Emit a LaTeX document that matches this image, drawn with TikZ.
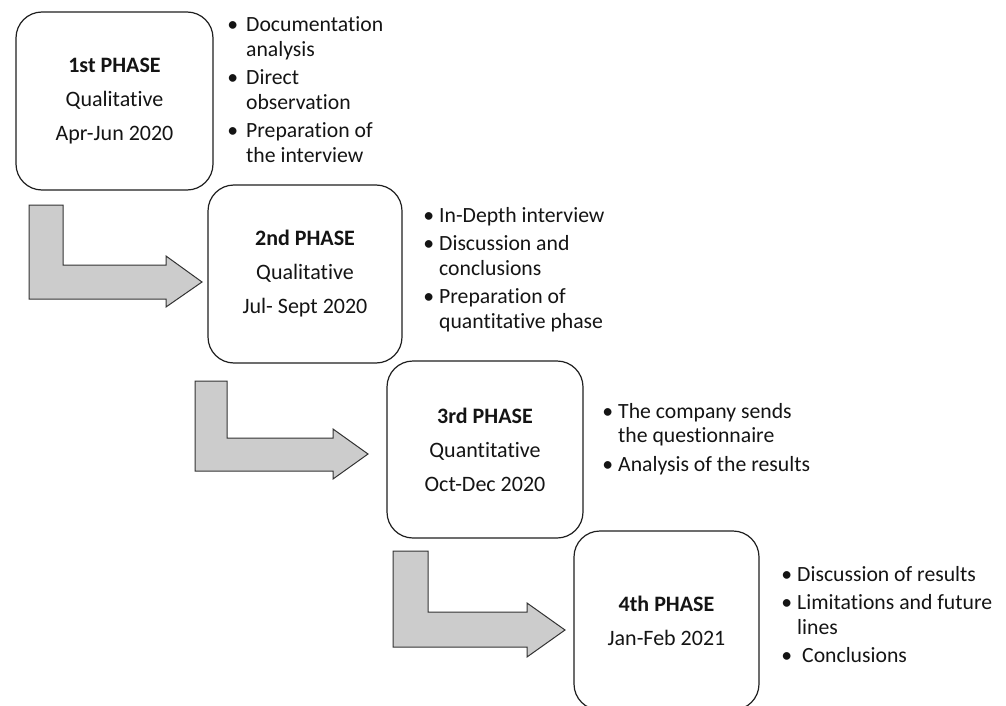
\documentclass[tikz,border=0pt]{standalone}
\usepackage{fontspec}
\setmainfont{Carlito}[RawFeature={-liga,-dlig,-clig}]
\begin{document}
\begin{tikzpicture}[x=1pt,y=-1pt,
  phasebox/.style={draw=black!88, line width=1.2pt, rounded corners=26pt, fill=white,
    align=center, inner sep=0pt, text=black!92,
    font=\fontsize{22}{34}\selectfont},
  bullets/.style={anchor=base west, inner sep=0pt, text=black!92,
    font=\fontsize{21.7}{24.5}\selectfont},
  blockarrow/.style={draw=black!80, line width=1pt, fill=black!20, line join=miter}]
\useasboundingbox (0,0) rectangle (1006,706);
\clip (0,0) rectangle (1006,706);
\def\bul#1{\llap{\textbullet\hspace{#1}}}

% phase boxes
\node[phasebox, minimum width=197pt, minimum height=178pt] (p1) at (114.5,101)
  {\textbf{1st PHASE}\\Qualitative\\Apr-Jun 2020};
\node[phasebox, minimum width=194pt, minimum height=178pt] (p2) at (305,274)
  {\textbf{2nd PHASE}\\Qualitative\\Jul- Sept 2020};
\node[phasebox, minimum width=196pt, minimum height=177pt] (p3) at (485,449.5)
  {\textbf{3rd PHASE}\\Quantitative\\Oct-Dec 2020};
\node[phasebox, minimum width=185pt, minimum height=179pt] (p4) at (666.5,620.5)
  {\textbf{4th PHASE}\\Jan-Feb 2021};

% bullet lists
\node[bullets] (b1) at (246,32) {\begin{tabular}[t]{@{}l@{}}
  \bul{8pt}Documentation\\ analysis\\[4pt]
  \bul{8pt}Direct\\ observation\\[4pt]
  \bul{8pt}Preparation of\\ the interview\end{tabular}};
\node[bullets] (b2) at (439,222) {\begin{tabular}[t]{@{}l@{}}
  \bul{5pt}In-Depth interview\\[4pt]
  \bul{5pt}Discussion and\\ conclusions\\[4pt]
  \bul{5pt}Preparation of\\ quantitative phase\end{tabular}};
\node[bullets] (b3) at (618,418) {\begin{tabular}[t]{@{}l@{}}
  \bul{5pt}The company sends\\ the questionnaire\\[4pt]
  \bul{5pt}Analysis of the results\end{tabular}};
\node[bullets] (b4) at (797,581) {\begin{tabular}[t]{@{}l@{}}
  \bul{5pt}Discussion of results\\[4pt]
  \bul{5pt}Limitations and future\\ lines\\[4pt]
  \bul{5pt}\hspace{5pt}Conclusions\end{tabular}};

% bent block arrows
\draw[blockarrow] (29,205) -- (63,205) -- (63,265) -- (166,265) -- (166,256)
  -- (202,282) -- (166,307) -- (166,299) -- (29,299) -- cycle;
\draw[blockarrow] (195,381) -- (227,381) -- (227,438) -- (333,438) -- (333,429)
  -- (368,454) -- (333,479) -- (333,471) -- (195,471) -- cycle;
\draw[blockarrow] (393,551) -- (428,551) -- (428,612) -- (527,612) -- (527,603)
  -- (565,630) -- (527,657) -- (527,647) -- (393,647) -- cycle;
\end{tikzpicture}
\end{document}
